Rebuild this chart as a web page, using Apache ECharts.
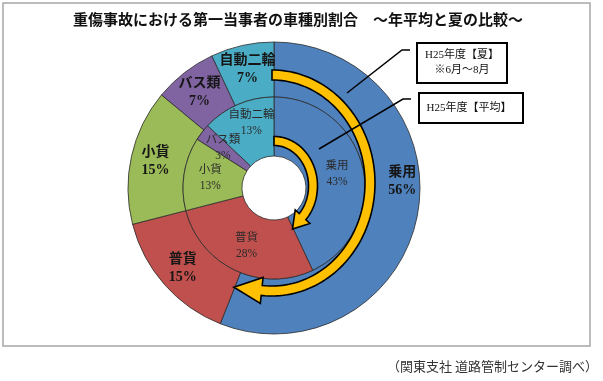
<!DOCTYPE html>
<html><head><meta charset="utf-8">
<script src="https://cdn.jsdelivr.net/npm/echarts@6/dist/echarts.min.js"></script>
<style>html,body{margin:0;padding:0;background:#fff}#c{width:603px;height:381px}</style>
</head><body><div id="c"></div>
<script>
// ---- data ----
const categories = ['乗用', '普貨', '小貨', 'バス類', '自動二輪'];
const summerValues = [56, 15, 15, 7, 7];      // H25年度【夏】 outer ring
const averageValues = [43, 28, 13, 3, 13];    // H25年度【平均】 inner ring
const titleText = '重傷事故における第一当事者の車種別割合　～年平均と夏の比較～';
const noteText = '（関東支社 道路管制センター調べ）';
const summerBoxLines = ['H25年度【夏】', '※6月～8月'];
const averageBoxText = 'H25年度【平均】';

// ---- styles ----
const colors = ['#4F81BD', '#C0504D', '#9BBB59', '#8064A2', '#4BACC6'];
const CX = 274, CY = 188;
const serif = "'Liberation Serif','Noto Sans CJK JP',serif";
const outerLabelOffsets = { '乗用': [9, -29] };
const innerLabelOffsets = { '自動二輪': [3, -6] };

const chart = echarts.init(document.getElementById('c'), null, { renderer: 'canvas' });

// curved arrow following an elliptical path, clockwise from 12 o'clock
function arrowPoints(cx, cy, rx, ry, w, hw, headLen, endFrac) {
  const rm = (rx + ry) / 2;
  const tipA = endFrac * 2 * Math.PI;
  const headA = tipA - headLen / rm;
  const P = (a, off) => [cx + (rx + off) * Math.sin(a), cy - (ry + off) * Math.cos(a)];
  const pts = [];
  const N = 90;
  for (let i = 0; i <= N; i++) pts.push(P(headA * i / N, w / 2));
  pts.push(P(headA, hw));
  const b = P(headA, 0);
  let tx = rx * Math.cos(headA), ty = ry * Math.sin(headA);
  const tl = Math.hypot(tx, ty); tx /= tl; ty /= tl;
  pts.push([b[0] + headLen * tx, b[1] + headLen * ty]);
  pts.push(P(headA, -hw));
  for (let i = N; i >= 0; i--) pts.push(P(headA * i / N, -w / 2));
  return pts;
}
const sum = a => a.reduce((s, v) => s + v, 0);
const outerShare = summerValues[0] / sum(summerValues);
const innerShare = averageValues[0] / sum(averageValues);

function buildData(values, offsets) {
  return categories.map((c, i) => {
    const d = { name: c, value: values[i], itemStyle: { color: colors[i] } };
    if (offsets && offsets[c]) d.label = { offset: offsets[c] };
    return d;
  });
}

const commonPie = {
  type: 'pie', center: [CX, CY], startAngle: 90, clockwise: true,
  silent: true, z: 2, avoidLabelOverlap: false, minShowLabelAngle: 0,
  labelLayout: { hideOverlap: false },
  itemStyle: { borderColor: '#2b2b2b', borderWidth: 0.8 },
  labelLine: { show: false }
};

const option = {
  animation: false,
  title: {
    text: titleText, left: 68, top: 9,
    textStyle: { fontFamily: serif, fontSize: 15, fontWeight: 'bold', color: '#111' }
  },
  series: [
    Object.assign({}, commonPie, {
      radius: [91, 146],
      label: {
        show: true, position: 'inside', formatter: '{b}\n{c}%', overflow: 'none',
        fontFamily: serif, fontSize: 14, fontWeight: 'bold', lineHeight: 18, color: '#161616'
      },
      data: buildData(summerValues, outerLabelOffsets)
    }),
    Object.assign({}, commonPie, {
      radius: [32, 91],
      label: {
        show: true, position: 'inside', formatter: '{b}\n{c}%', overflow: 'none',
        fontFamily: serif, fontSize: 11.5, lineHeight: 16, color: '#2a2a2a'
      },
      data: buildData(averageValues, innerLabelOffsets)
    })
  ],
  graphic: [
    { type: 'rect', z: 0, shape: { x: 3, y: 3, width: 587, height: 343 },
      style: { fill: 'none', stroke: '#a6a6a6', lineWidth: 1.5 } },
    { type: 'polygon', z: 100, shape: { points: arrowPoints(272, 183, 98, 108, 10, 13, 28, outerShare) },
      style: { fill: '#FFC000', stroke: '#000', lineWidth: 1.6 } },
    { type: 'polygon', z: 100, shape: { points: arrowPoints(274, 186, 39, 45, 9, 10, 16, innerShare) },
      style: { fill: '#FFC000', stroke: '#000', lineWidth: 1.6 } },
    { type: 'polyline', z: 100, shape: { points: [[347, 93], [402, 50], [410, 50]] },
      style: { stroke: '#000', lineWidth: 1.5, fill: 'none' } },
    { type: 'polyline', z: 100, shape: { points: [[319, 149], [403, 99], [411, 99]] },
      style: { stroke: '#000', lineWidth: 1.5, fill: 'none' } },
    { type: 'rect', z: 100, shape: { x: 417, y: 43, width: 90, height: 40 },
      style: { fill: '#fff', stroke: '#000', lineWidth: 2 } },
    { type: 'rect', z: 100, shape: { x: 419, y: 93, width: 104, height: 30 },
      style: { fill: '#fff', stroke: '#000', lineWidth: 2 } },
    { type: 'text', z: 101, x: 462, y: 63,
      style: { text: summerBoxLines.join('\n'), fontFamily: serif, fontSize: 11, lineHeight: 15,
        fill: '#111', align: 'center', verticalAlign: 'middle' } },
    { type: 'text', z: 101, x: 469, y: 108,
      style: { text: averageBoxText, fontFamily: serif, fontSize: 11,
        fill: '#111', align: 'center', verticalAlign: 'middle' } },
    { type: 'text', z: 101, x: 598, y: 366,
      style: { text: noteText, fontFamily: "'Noto Sans CJK JP',sans-serif", fontSize: 13,
        fill: '#333', align: 'right', verticalAlign: 'middle' } }
  ]
};
chart.setOption(option);
</script></body></html>
